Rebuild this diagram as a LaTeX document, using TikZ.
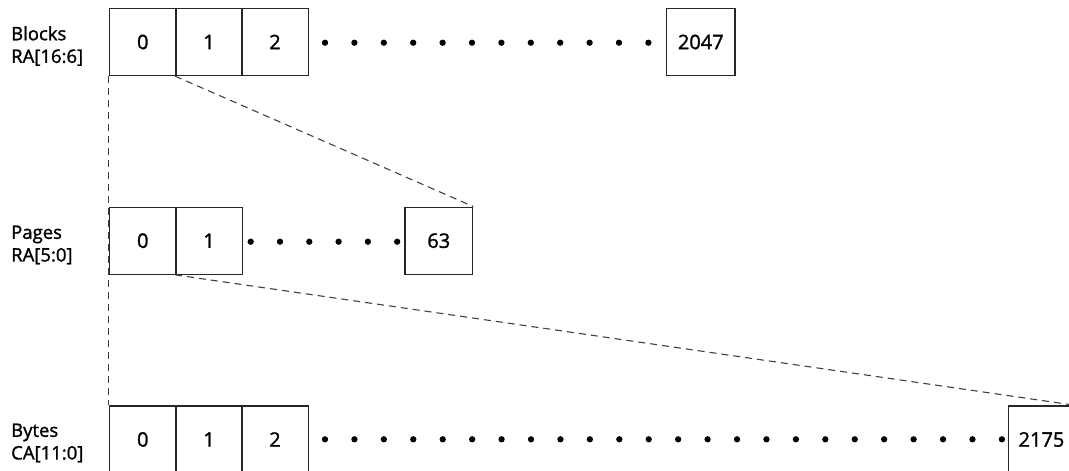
\documentclass[tikz,border=0pt]{standalone}
\usepackage{fontspec}
\setmainfont{Open Sans}[BoldFont=Open Sans,BoldFeatures={FakeBold=1.4}]
\begin{document}
\begin{tikzpicture}[x=1pt,y=-1pt,
  cell/.style={draw=black!85,line width=1.3pt,minimum width=66.5pt,minimum height=67pt,inner sep=0pt,font=\fontsize{20}{22}\selectfont\bfseries},
  lbl/.style={anchor=west,align=left,inner sep=0pt,font=\fontsize{18.5}{22.6}\selectfont\bfseries},
  guide/.style={draw=black!75,line width=1.1pt,dash pattern=on 7pt off 5pt},
  dot/.style={circle,fill=black,inner sep=0pt,minimum size=6.3pt}]
\useasboundingbox (0,0) rectangle (1069,471);
\begin{scope}
\clip (0,0) rectangle (1069,471);
% Blocks row
\node[lbl] (lblA) at (11,46) {Blocks\\RA[16:6]};
\node[cell] (b0) at (142.8,42) {0};
\node[cell] (b1) at (209,42) {1};
\node[cell] (b2) at (275,42) {2};
\node[cell,minimum width=68.3pt] (bN) at (700.8,42) {2047};
\foreach \i in {0,...,11} \node[dot] at (325+29.4*\i,42.7) {};
% Pages row
\node[lbl] (lblB) at (11,245) {Pages\\RA[5:0]};
\node[cell] (p0) at (142.8,240.7) {0};
\node[cell] (p1) at (209,240.7) {1};
\node[cell,minimum width=67.7pt] (pN) at (438.8,240.7) {63};
\foreach \i in {0,...,5} \node[dot] at (250.7+29.3*\i,241.7) {};
% Bytes row
\node[lbl] (lblC) at (11,443) {Bytes\\CA[11:0]};
\node[cell] (y0) at (142.8,439.5) {0};
\node[cell] (y1) at (209,439.5) {1};
\node[cell] (y2) at (275,439.5) {2};
\node[cell] (yN) at (1041.5,439.5) {2175};
\foreach \i in {0,...,23} \node[dot] at (325+29.43*\i,439.3) {};
% guides
\draw[guide] (b0.south west) -- (y0.north west);
\draw[guide] (b1.south west) -- (pN.north east);
\draw[guide] (p1.south west) -- (yN.north east);
\end{scope}
\end{tikzpicture}
\end{document}
